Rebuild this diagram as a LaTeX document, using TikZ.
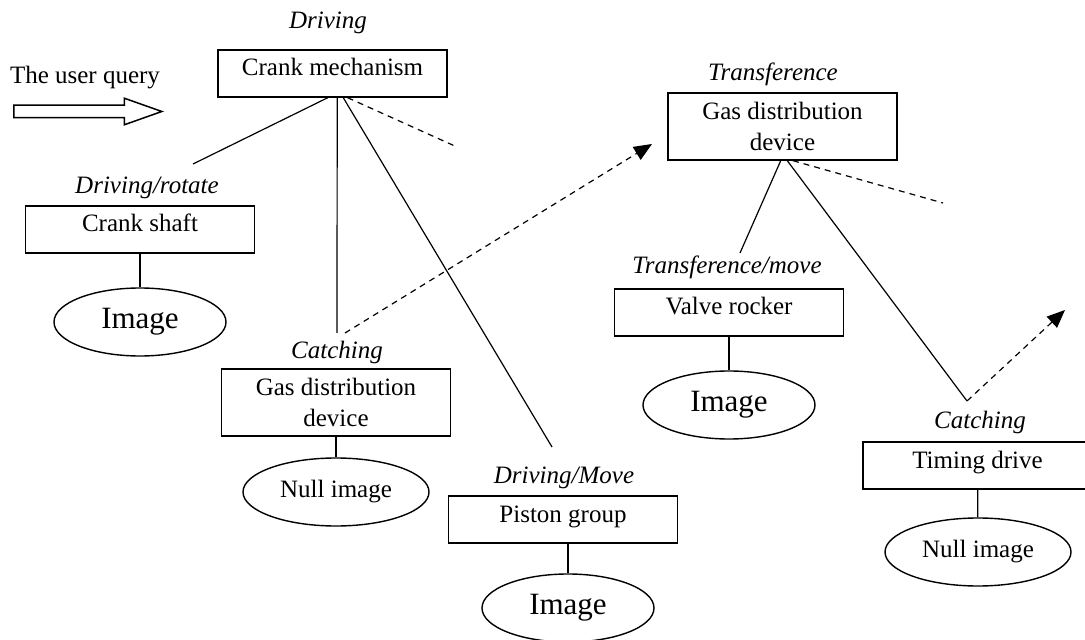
\documentclass[tikz,border=0pt]{standalone}
\usepackage{fontspec}
\setmainfont{Liberation Serif}
\usetikzlibrary{shapes.geometric,shapes.arrows,arrows.meta}
\begin{document}
\begin{tikzpicture}[x=0.5pt,y=-0.5pt,
    every node/.style={font=\fontsize{12.5}{15.5}\selectfont},
    partbox/.style={draw,line width=0.7pt,rectangle,minimum width=114.5pt,minimum height=23.5pt,inner sep=0pt,align=center},
    oneline/.style={text height=8.5pt,text depth=6pt},
    twoline/.style={minimum height=33.5pt},
    rolelabel/.style={font=\fontsize{12.5}{15.5}\selectfont\itshape},
    imgoval/.style={draw,line width=0.7pt,ellipse,minimum width=86pt,minimum height=34pt,inner sep=0pt,font=\fontsize{15.5}{18}\selectfont},
    nulloval/.style={draw,line width=0.7pt,ellipse,minimum width=93pt,minimum height=34pt,inner sep=0pt},
    solidline/.style={line width=0.6pt},
    dashline/.style={line width=0.6pt,dash pattern=on 3pt off 2.5pt},
    dasharrow/.style={dashline,-{Triangle[length=9pt,width=7.5pt]}}]
  \useasboundingbox (0,0) rectangle (1085,640);
  % user query
  \node (query) at (85,78) {The user query};
  \node[draw,line width=0.75pt,single arrow,minimum height=74pt,inner sep=2.75pt,
        single arrow head extend=3.5pt,single arrow tip angle=39] (qarrow) at (79,111.5) {};
  % left tree
  \node[rolelabel] (drv) at (328,23) {Driving};
  \node[partbox,oneline] (crank) at (332.5,73.5) {Crank mechanism};
  \node[rolelabel] (drvrot) at (147,188) {Driving/rotate};
  \node[partbox,oneline] (shaft) at (140,229.5) {Crank shaft};
  \node[imgoval] (shaftimg) at (140,322) {Image};
  \node[rolelabel] (catch1) at (337,352) {Catching};
  \node[partbox,twoline] (gas) at (336,402.5) {Gas distribution\\device};
  \node[nulloval] (gasnull) at (336,492) {Null image};
  \node[rolelabel] (drvmove) at (564,478) {Driving/Move};
  \node[partbox,oneline] (piston) at (563,519.5) {Piston group};
  \node[imgoval] (pistonimg) at (568,608) {Image};
  % right tree
  \node[rolelabel] (trf) at (773,74) {Transference};
  \node[partbox,twoline] (trans) at (782.5,126.5) {Gas distribution\\device};
  \node[rolelabel] (trfmove) at (727,267) {Transference/move};
  \node[partbox,oneline] (valve) at (729,312.5) {Valve rocker};
  \node[imgoval] (valveimg) at (729,405) {Image};
  \node[rolelabel] (catch2) at (980,422) {Catching};
  \node[partbox,oneline] (timing) at (977.5,465.5) {Timing drive};
  \node[nulloval] (timingnull) at (978,552) {Null image};
  % free ends
  \coordinate (e1) at (193,164);
  \coordinate (e2) at (337,333);
  \coordinate (e3) at (552,447);
  \coordinate (e4) at (457,147);
  \coordinate (s1) at (345,333);
  \coordinate (e9) at (652,144);
  \coordinate (e5) at (740,253);
  \coordinate (e6) at (967,401);
  \coordinate (e7) at (943,203);
  \coordinate (e8) at (1065,310);
  \draw [solidline] (crank.-101) -- (e1);
  \draw [solidline] (crank.-79) -- (e2);
  \draw [solidline] (crank.-66) -- (e3);
  \draw [dashline] (crank.-58) -- (e4);
  \draw [dasharrow] (s1) -- (e9);
  \draw [solidline] (shaft) -- (shaftimg);
  \draw [solidline] (gas) -- (gasnull);
  \draw [solidline] (pistonimg |- piston.south) -- (pistonimg);
  \draw [solidline] (trans.-93) -- (e5);
  \draw [solidline] (trans.-82) -- (e6);
  \draw [dashline] (trans.-73) -- (e7);
  \draw [dasharrow] (e6) -- (e8);
  \draw [solidline] (valve) -- (valveimg);
  \draw [solidline] (timing) -- (timingnull);
\end{tikzpicture}
\end{document}
